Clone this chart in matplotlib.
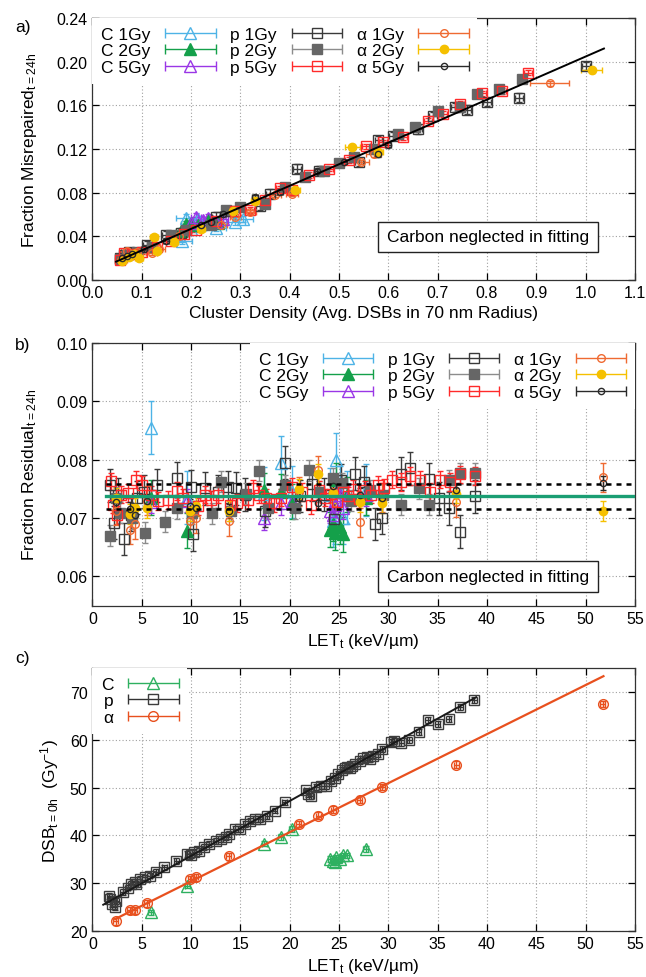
import numpy as np
import matplotlib
matplotlib.use("Agg")
import matplotlib.pyplot as plt
from matplotlib.container import ErrorbarContainer
from matplotlib.legend_handler import HandlerErrorbar
from matplotlib.patches import Rectangle

plt.rcParams['font.family'] = ['Liberation Sans', 'DejaVu Sans']
plt.rcParams['mathtext.fontset'] = 'custom'
plt.rcParams['mathtext.rm'] = 'Liberation Sans'
plt.rcParams['mathtext.default'] = 'regular'

# ---------------- panel a: fraction misrepaired vs cluster density
a_c1_x = [0.175, 0.181, 0.19, 0.20, 0.215, 0.25, 0.29, 0.305]
a_c1_y = [0.040, 0.036, 0.057, 0.047, 0.056, 0.048, 0.053, 0.056]
a_c2_x = [0.18, 0.19, 0.20, 0.215, 0.235, 0.255]
a_c2_y = [0.045, 0.051, 0.052, 0.050, 0.055, 0.052]
a_c5_x = [0.20, 0.21, 0.225, 0.235, 0.25, 0.265]
a_c5_y = [0.052, 0.058, 0.055, 0.057, 0.053, 0.056]
a_p1_x = [0.055, 0.065, 0.075, 0.11, 0.15, 0.18, 0.25, 0.28, 0.34, 0.36, 0.415,
          0.46, 0.54, 0.58, 0.61, 0.66, 0.69, 0.735, 0.76, 0.80, 0.864, 1.0]
a_p1_y = [0.020, 0.0225, 0.0255, 0.032, 0.041, 0.043, 0.058, 0.063, 0.068, 0.079, 0.102,
          0.100, 0.108, 0.128, 0.132, 0.138, 0.150, 0.158, 0.156, 0.163, 0.167, 0.196]
a_p2_x = [0.055, 0.07, 0.09, 0.12, 0.16, 0.19, 0.24, 0.27, 0.30, 0.35, 0.39, 0.43,
          0.47, 0.50, 0.53, 0.57, 0.62, 0.655, 0.70, 0.745, 0.78, 0.825, 0.87]
a_p2_y = [0.019, 0.023, 0.026, 0.030, 0.041, 0.046, 0.050, 0.064, 0.067, 0.070, 0.085, 0.094,
          0.100, 0.107, 0.113, 0.120, 0.134, 0.140, 0.155, 0.158, 0.170, 0.175, 0.184]
a_p5_x = [0.055, 0.065, 0.08, 0.10, 0.13, 0.16, 0.185, 0.21, 0.25, 0.29, 0.32, 0.35, 0.38,
          0.405, 0.44, 0.48, 0.52, 0.555, 0.59, 0.63, 0.68, 0.71, 0.745, 0.79, 0.83, 0.883]
a_p5_y = [0.018, 0.025, 0.024, 0.026, 0.030, 0.036, 0.042, 0.046, 0.054, 0.063, 0.064, 0.073, 0.084,
          0.082, 0.096, 0.102, 0.110, 0.1225, 0.126, 0.131, 0.146, 0.152, 0.161, 0.171, 0.173, 0.190]
a_a1_x = [0.058, 0.07, 0.09, 0.12, 0.135, 0.175, 0.26, 0.29, 0.32, 0.37, 0.405, 0.545, 0.57, 0.927]
a_a1_y = [0.018, 0.027, 0.026, 0.025, 0.028, 0.040, 0.050, 0.058, 0.062, 0.078, 0.079, 0.108, 0.115, 0.180]
a_a1_xerr = [0.012, 0.012, 0.012, 0.012, 0.012, 0.012, 0.012, 0.012, 0.012, 0.012, 0.012, 0.015, 0.015, 0.04]
a_a2_x = [0.06, 0.075, 0.085, 0.095, 0.125, 0.13, 0.165, 0.22, 0.285, 0.33, 0.41, 0.527, 0.58, 1.012]
a_a2_y = [0.017, 0.021, 0.024, 0.020, 0.039, 0.027, 0.035, 0.047, 0.063, 0.072, 0.082, 0.1215, 0.117, 0.192]
a_a2_xerr = [0.008, 0.008, 0.008, 0.008, 0.008, 0.008, 0.008, 0.008, 0.008, 0.008, 0.01, 0.015, 0.01, 0.022]
a_a5_x = [0.06, 0.07, 0.08, 0.105, 0.15, 0.22, 0.24, 0.265, 0.33, 0.38, 0.455, 0.51, 0.578, 0.60]
a_a5_y = [0.020, 0.022, 0.024, 0.028, 0.036, 0.050, 0.053, 0.060, 0.076, 0.081, 0.100, 0.108, 0.115, 0.124]
a_fit_x = [0.048, 1.037]
a_fit_y = [0.0168, 0.212]

# ---------------- panel b: fraction residual vs LET
c_let = [5.9, 9.6, 17.4, 19.1, 20.2, 24.1, 24.4, 24.6, 24.7, 25.1, 25.4, 25.8, 27.7]
b_c1 = [0.0855, 0.0735, 0.0742, 0.0795, 0.0745, 0.0740, 0.0695, 0.0700, 0.0800, 0.0745, 0.0700, 0.0735, 0.0748]
b_c2 = [0.0735, 0.0678, 0.0748, 0.0745, 0.0728, 0.0680, 0.0690, 0.0675, 0.0765, 0.0685, 0.0672, 0.0740, 0.0735]
b_c5 = [0.0728, 0.0730, 0.0700, 0.0725, 0.0730, 0.0712, 0.0705, 0.0722, 0.0745, 0.0740, 0.0718, 0.0735, 0.0740]
b_p1_let = [1.8, 2.2, 2.6, 3.2, 3.9, 4.5, 5.2, 6.5, 8.6, 10.0, 10.2, 11.4, 12.7, 13.7, 14.6, 15.5, 17.5,
            19.5, 21.0, 22.3, 23.5, 24.5, 25.2, 26.6, 27.5, 28.6, 29.4, 31.3, 32.2, 34.1, 35.1, 36.1, 37.3, 38.8]
b_p1 = [0.0756, 0.0692, 0.0740, 0.0664, 0.0706, 0.0735, 0.0745, 0.0756, 0.0768, 0.0754, 0.0672, 0.0751,
        0.0745, 0.0753, 0.0751, 0.0740, 0.0712, 0.0795, 0.0738, 0.0758, 0.0740, 0.0698, 0.0765, 0.0776,
        0.0762, 0.0690, 0.0700, 0.0776, 0.0785, 0.0767, 0.0734, 0.0717, 0.0677, 0.0737]
b_p2_let = [1.8, 2.4, 2.8, 4.0, 5.3, 7.4, 8.6, 10.1, 12.1, 13.0, 14.1, 15.6, 16.9, 17.8, 19.5, 20.5,
            22.0, 23.0, 24.4, 25.3, 26.2, 28.1, 29.5, 31.3, 33.1, 34.1, 36.1, 37.3, 38.8]
b_p2 = [0.0670, 0.0735, 0.0709, 0.0700, 0.0675, 0.0694, 0.0717, 0.0708, 0.0708, 0.0762, 0.0713, 0.0742,
        0.0781, 0.0717, 0.0756, 0.0717, 0.0782, 0.0745, 0.0768, 0.0760, 0.0730, 0.0748, 0.0740, 0.0723,
        0.0751, 0.0723, 0.0765, 0.0777, 0.0777]
b_p5_let = [1.9, 2.1, 2.5, 2.9, 3.6, 4.4, 5.0, 5.9, 6.7, 7.7, 8.6, 9.2, 10.7, 11.4, 12.0, 12.7, 13.9,
            14.7, 15.8, 16.3, 16.9, 17.6, 18.4, 19.1, 20.2, 21.2, 22.2, 23.0, 23.6, 24.2, 24.8, 25.4,
            25.9, 26.4, 27.0, 27.6, 28.2, 28.9, 29.6, 30.4, 31.3, 32.2, 33.2, 34.2, 35.2, 36.2, 37.3, 38.8]
b_p5 = [0.0763, 0.0723, 0.0705, 0.0740, 0.0743, 0.0766, 0.0757, 0.0740, 0.0729, 0.0731, 0.0746, 0.0735,
        0.0720, 0.0740, 0.0731, 0.0740, 0.0723, 0.0726, 0.0731, 0.0751, 0.0740, 0.0735, 0.0726, 0.0735,
        0.0753, 0.0745, 0.0722, 0.0748, 0.0735, 0.0742, 0.0728, 0.0745, 0.0738, 0.0750, 0.0732, 0.0748,
        0.0740, 0.0757, 0.0752, 0.0766, 0.0762, 0.0772, 0.0766, 0.0745, 0.0766, 0.0762, 0.0775, 0.0772]
alpha_let = [2.35, 3.8, 4.3, 5.5, 9.9, 10.5, 13.8, 20.9, 22.9, 24.4, 27.1, 29.4, 36.9, 51.75]
b_a1 = [0.0713, 0.0680, 0.0690, 0.0730, 0.0695, 0.0700, 0.0695, 0.0745, 0.0782, 0.0745, 0.0693, 0.0735, 0.0727, 0.0770]
b_a2 = [0.0735, 0.0707, 0.0717, 0.0718, 0.0712, 0.0720, 0.0712, 0.0750, 0.0775, 0.0743, 0.0727, 0.0725, 0.0742, 0.0712]
b_a5 = [0.0727, 0.0715, 0.0705, 0.0730, 0.0720, 0.0718, 0.0712, 0.0735, 0.0726, 0.0755, 0.0740, 0.0735, 0.0748, 0.0760]
b_mean = 0.0737
b_band = [0.0716, 0.0759]
b_line_let = [1.4, 55]

# ---------------- panel c: DSB yield vs LET
c_dsb = [23.9, 29.5, 38.3, 39.7, 41.3, 35.1, 34.7, 34.4, 35.4, 35.1, 35.8, 35.8, 37.2]
p_let = [1.7, 1.8, 2.0, 2.25, 2.4, 3.1, 3.6, 3.9, 4.3, 4.4, 4.8, 5.3, 5.8, 6.4, 7.3, 8.5, 9.6, 10.0,
         10.3, 10.8, 11.3, 11.8, 12.5, 13.0, 13.5, 13.8, 14.5, 15.0, 15.5, 16.0, 16.5, 17.0, 17.7, 18.5,
         19.5, 21.7, 21.9, 22.2, 22.7, 23.2, 23.7, 24.2, 24.6, 24.9, 25.3, 25.6, 25.8, 26.1, 26.3, 26.6,
         27.1, 27.4, 27.8, 28.1, 28.4, 28.9, 29.4, 30.3, 30.6, 31.3, 32.1, 33.1, 34.0, 35.0, 36.1, 37.3, 38.7]
p_dsb = [27.4, 26.7, 25.6, 25.0, 26.3, 28.1, 29.1, 29.8, 30.2, 29.8, 30.9, 31.2, 31.6, 32.3, 33.3, 34.7,
         36.1, 35.8, 36.5, 36.8, 37.5, 38.2, 38.9, 39.2, 39.6, 40.3, 41.3, 41.3, 42.4, 43.1, 43.4, 43.4,
         44.1, 45.2, 46.9, 49.4, 48.7, 48.3, 50.1, 50.4, 50.4, 51.4, 52.1, 52.8, 53.7, 54.1, 54.4, 54.1,
         54.6, 54.9, 55.6, 56.1, 56.3, 56.0, 56.7, 57.0, 58.1, 59.5, 59.7, 59.3, 60.0, 61.6, 64.1, 63.3,
         64.4, 66.9, 68.3]
alpha_dsb = [22.0, 24.3, 24.3, 25.8, 30.9, 31.2, 35.6, 42.4, 44.1, 45.4, 47.5, 50.1, 54.8, 67.5]
p_fit_let = [1.1, 38.9]
p_fit_dsb = [25.5, 68.9]
alpha_fit_let = [2.3, 51.8]
alpha_fit_dsb = [22.5, 73.3]

styles = {
    'C 1Gy': dict(color='#4db3e6', marker='^', mfc='none', mec='#4db3e6', ms=8),
    'C 2Gy': dict(color='#14a04a', marker='^', mfc='#14a04a', mec='#14a04a', ms=8),
    'C 5Gy': dict(color='#9a36e6', marker='^', mfc='none', mec='#9a36e6', ms=8),
    'p 1Gy': dict(color='#3a3a3a', marker='s', mfc='none', mec='#3a3a3a', ms=6.5),
    'p 2Gy': dict(color='#8c8c8c', marker='s', mfc='#666666', mec='#666666', ms=7),
    'p 5Gy': dict(color='#ff2a2a', marker='s', mfc='none', mec='#ff2a2a', ms=6.5),
    'α 1Gy': dict(color='#ef6a32', marker='o', mfc='none', mec='#ef6a32', ms=5.5),
    'α 2Gy': dict(color='#f5c000', marker='o', mfc='#f5c000', mec='#f5c000', ms=6),
    'α 5Gy': dict(color='#2a2a2a', marker='o', mfc='none', mec='#2a2a2a', ms=4.5),
    'C': dict(color='#2eb060', marker='^', mfc='none', mec='#2eb060', ms=8),
    'p': dict(color='#333333', marker='s', mfc='none', mec='#3d3d3d', ms=7),
    'α': dict(color='#e8501e', marker='o', mfc='none', mec='#e8501e', ms=7),
}


def draw(ax, key, x, y, xerr=None, yerr=None):
    s = styles[key]
    ax.errorbar(x, y, xerr=xerr, yerr=yerr, fmt=s['marker'], color=s['color'], ecolor=s['color'],
                mfc=s['mfc'], mec=s['mec'], ms=s['ms'], mew=1.0, elinewidth=1.0,
                capsize=2.5, capthick=1.0, zorder=3)


def proxy(ax, key):
    s = styles[key]
    return ax.errorbar([np.nan], [np.nan], xerr=[1.0], fmt=s['marker'], color=s['color'],
                       ecolor=s['color'], mfc=s['mfc'], mec=s['mec'], ms=s['ms'], mew=1.0,
                       elinewidth=1.0, capsize=3.5, capthick=1.0, label=key)


def legend(ax, keys, ncol, loc, anchor):
    hs = [proxy(ax, k) for k in keys]
    lg = ax.legend(handles=hs, ncol=ncol, loc=loc, bbox_to_anchor=anchor, borderaxespad=0,
                   markerfirst=False, fontsize=12.5, handlelength=2.9, handletextpad=0.85,
                   columnspacing=0.85, labelspacing=0.08, borderpad=0.5, frameon=True,
                   fancybox=False, framealpha=1, facecolor='white', edgecolor='none',
                   handler_map={ErrorbarContainer: HandlerErrorbar(xerr_size=1.45)})
    lg.set_zorder(10)


def style(ax):
    ax.grid(True, color='#a0a0a0', linestyle=(0, (1, 2)), linewidth=0.8)
    ax.set_axisbelow(True)
    ax.tick_params(direction='in', top=True, right=True, length=5, labelsize=11.5, width=0.9)
    for sp in ax.spines.values():
        sp.set_color('#333333')
        sp.set_linewidth(0.9)


def note(ax, y0, y1):
    ax.add_patch(Rectangle((0.527, y0), 0.405, y1 - y0, transform=ax.transAxes,
                           fc='white', ec='#222222', lw=1.0, zorder=8))
    ax.text(0.7295, (y0 + y1) / 2, 'Carbon neglected in fitting', transform=ax.transAxes,
            ha='center', va='center', fontsize=12.5, zorder=9)


fig = plt.figure(figsize=(6.46, 9.78), dpi=100)
axa = fig.add_axes([0.143, 0.7127, 0.840, 0.2679])
axb = fig.add_axes([0.143, 0.3797, 0.840, 0.2686])
axc = fig.add_axes([0.143, 0.0470, 0.840, 0.2689])

# panel a
draw(axa, 'C 1Gy', a_c1_x, a_c1_y, 0.02, 0.003)
draw(axa, 'C 2Gy', a_c2_x, a_c2_y, 0.01, 0.003)
draw(axa, 'C 5Gy', a_c5_x, a_c5_y, 0.01, 0.003)
draw(axa, 'p 1Gy', a_p1_x, a_p1_y, 0.008, 0.004)
draw(axa, 'p 2Gy', a_p2_x, a_p2_y, 0.006, 0.003)
draw(axa, 'p 5Gy', a_p5_x, a_p5_y, 0.008, 0.0025)
draw(axa, 'α 1Gy', a_a1_x, a_a1_y, a_a1_xerr, 0.002)
draw(axa, 'α 2Gy', a_a2_x, a_a2_y, a_a2_xerr, 0.002)
draw(axa, 'α 5Gy', a_a5_x, a_a5_y, 0.006, 0.002)
axa.plot(a_fit_x, a_fit_y, color='black', lw=1.4, zorder=4)
axa.set_xlim(0, 1.1)
axa.set_ylim(0, 0.24)
axa.set_xticks(np.arange(0, 1.101, 0.1))
axa.set_yticks(np.arange(0, 0.2401, 0.04))
axa.xaxis.set_major_formatter('{x:.1f}')
axa.yaxis.set_major_formatter('{x:.2f}')
style(axa)
legend(axa, list(styles)[:9], 3, 'upper left', (0, 1))
note(axa, 0.108, 0.2225)
axa.set_xlabel('Cluster Density (Avg. DSBs in 70 nm Radius)', fontsize=12.5)
axa.set_ylabel('Fraction Misrepaired$_{t=24h}$', fontsize=12.5)
axa.yaxis.set_label_coords(-0.098, 0.5)

# panel b
draw(axb, 'C 1Gy', c_let, b_c1, None, 0.0045)
draw(axb, 'C 2Gy', c_let, b_c2, None, 0.003)
draw(axb, 'C 5Gy', c_let, b_c5, None, 0.002)
draw(axb, 'p 1Gy', b_p1_let, b_p1, None, 0.0028)
draw(axb, 'p 2Gy', b_p2_let, b_p2, None, 0.0018)
draw(axb, 'p 5Gy', b_p5_let, b_p5, None, 0.0015)
draw(axb, 'α 1Gy', alpha_let, b_a1, None, 0.0025)
draw(axb, 'α 2Gy', alpha_let, b_a2, None, 0.0017)
draw(axb, 'α 5Gy', alpha_let, b_a5, None, 0.0012)
axb.plot(b_line_let, [b_mean, b_mean], color='#1a9e73', lw=2.4, zorder=5)
for v in b_band:
    axb.plot(b_line_let, [v, v], color='black', lw=1.8, linestyle=(0, (2, 2)), zorder=5)
axb.set_xlim(0, 55)
axb.set_ylim(0.055, 0.10)
axb.set_xticks(np.arange(0, 56, 5))
axb.set_yticks(np.arange(0.06, 0.1001, 0.01))
axb.yaxis.set_major_formatter('{x:.2f}')
style(axb)
legend(axb, list(styles)[:9], 3, 'upper right', (1, 1))
note(axb, 0.051, 0.169)
axb.set_xlabel('LET$_t$ (keV/µm)', fontsize=12.5)
axb.set_ylabel('Fraction Residual$_{t=24h}$', fontsize=12.5)
axb.yaxis.set_label_coords(-0.098, 0.5)

# panel c
draw(axc, 'C', c_let, c_dsb, 0.25, 0.6)
draw(axc, 'p', p_let, p_dsb, 0.25, 0.6)
draw(axc, 'α', alpha_let, alpha_dsb, 0.25, 0.7)
axc.plot(p_fit_let, p_fit_dsb, color='#1a1a1a', lw=1.4, zorder=4)
axc.plot(alpha_fit_let, alpha_fit_dsb, color='#e8501e', lw=1.6, zorder=4)
axc.set_xlim(0, 55)
axc.set_ylim(20, 75)
axc.set_xticks(np.arange(0, 56, 5))
axc.set_yticks(np.arange(20, 71, 10))
style(axc)
legend(axc, ['C', 'p', 'α'], 1, 'upper left', (0, 1))
axc.set_xlabel('LET$_t$ (keV/µm)', fontsize=12.5)
axc.set_ylabel('DSB$_{t=0h}$  (Gy$^{-1}$)', fontsize=12.5)
axc.yaxis.set_label_coords(-0.058, 0.5)

fig.text(0.023, 0.972, 'a)', fontsize=12.5, ha='left', va='center')
fig.text(0.023, 0.647, 'b)', fontsize=12.5, ha='left', va='center')
fig.text(0.023, 0.327, 'c)', fontsize=12.5, ha='left', va='center')

fig.savefig('out.png', dpi=100)
